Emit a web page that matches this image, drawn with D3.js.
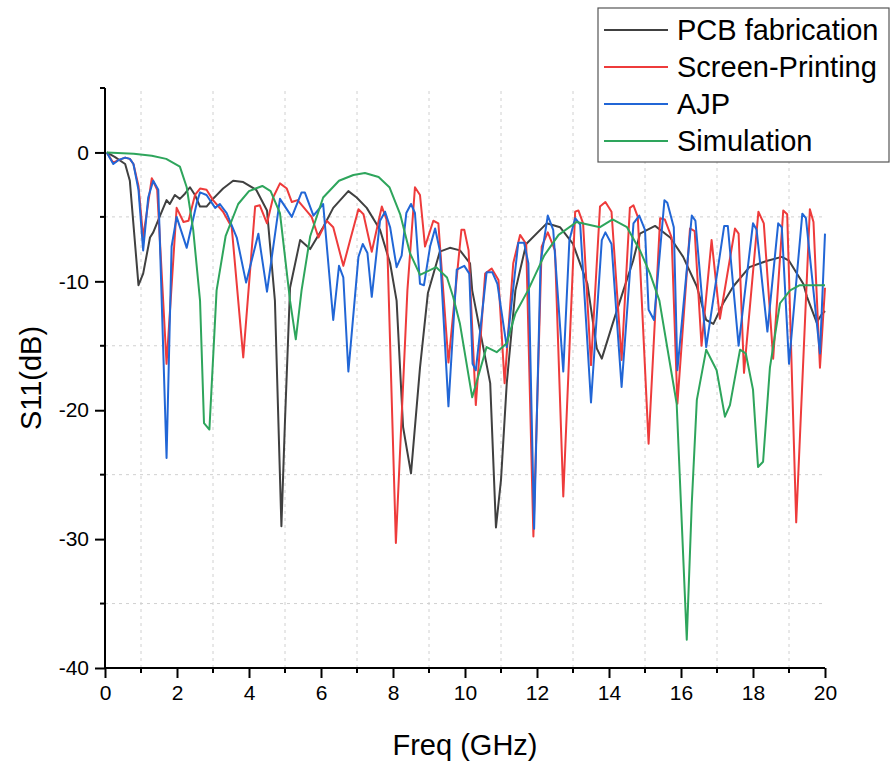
<!DOCTYPE html>
<meta charset="utf-8">
<style>
    body { margin: 0; background: #fff; }
    text { font-family: "Liberation Sans", Arial, sans-serif; fill: #000; }
    .line { fill: none; stroke-width: 2; stroke-linejoin: round; }
    .grid line { stroke: #d0d0d0; stroke-dasharray: 3,4; }
</style>
<body>
<script src="https://cdn.jsdelivr.net/npm/d3@7"></script>
<script>

    var width = 891,
        height = 765;

    var margin = {top: 88, right: 66, bottom: 97, left: 105};

    // series: [freq GHz, S11 dB]
    var pcb = [[0.05,0],[0.28,-0.36],[0.56,-0.9],[0.69,-2.2],[0.93,-10.3],[1.06,-9.4],[1.25,-6.6],[1.34,-6.2],
        [1.53,-4.9],[1.71,-3.7],[1.8,-4],[1.94,-3.3],[2.08,-3.6],[2.22,-3.2],[2.36,-2.7],[2.5,-3.3],[2.64,-4.2],
        [2.82,-4.2],[3.0,-3.6],[3.28,-2.8],[3.56,-2.2],[3.84,-2.3],[4.2,-2.9],[4.5,-4.5],[4.72,-11.5],[4.9,-29],
        [5.0,-20.8],[5.14,-10.5],[5.42,-6.8],[5.7,-7.5],[6.06,-5.8],[6.34,-4.3],[6.76,-3.0],[6.99,-3.5],[7.27,-4.3],
        [7.64,-6.0],[7.92,-8.6],[8.1,-11.5],[8.28,-21.3],[8.5,-24.9],[8.75,-16.7],[8.97,-10.9],[9.3,-7.7],[9.58,-7.4],
        [9.86,-7.6],[10.14,-8.6],[10.2,-10.7],[10.7,-17.9],[10.86,-29.1],[11.0,-25.4],[11.16,-17.9],[11.4,-10.7],
        [11.7,-7.1],[12.27,-5.5],[12.64,-5.8],[13.0,-7.1],[13.4,-10.2],[13.66,-15.2],[13.8,-16],[14.1,-13.3],
        [14.4,-10.7],[14.67,-8.4],[14.86,-6.3],[15.28,-5.7],[15.7,-6.6],[16.06,-8.1],[16.44,-10.4],[16.7,-13],
        [16.9,-13.3],[17.17,-11.7],[17.45,-10.4],[17.9,-8.9],[18.4,-8.4],[18.8,-8.1],[19.0,-8.4],[19.4,-10.2],
        [19.5,-11.2],[19.77,-13.2],[19.9,-12.6],[20,-12.3]];

    var screen = [[0.05,0],[0.23,-0.8],[0.37,-0.6],[0.56,-0.4],[0.69,-0.5],[0.79,-0.9],[0.93,-2.6],[1.06,-6.6],
        [1.3,-2.0],[1.45,-2.9],[1.71,-16.4],[1.99,-4.3],[2.18,-5.4],[2.32,-5.3],[2.5,-3.3],[2.64,-2.8],[2.82,-2.9],
        [3.0,-3.7],[3.28,-4.6],[3.52,-5.8],[3.84,-15.9],[4.17,-4.2],[4.3,-4.1],[4.5,-5.5],[4.67,-3.5],[4.86,-2.4],
        [5.05,-2.8],[5.19,-3.85],[5.35,-3.7],[5.74,-5.0],[5.93,-6.6],[6.16,-5.3],[6.34,-5.8],[6.62,-8.8],[6.81,-6.8],
        [7.04,-4.4],[7.18,-4.8],[7.41,-7.7],[7.69,-4.2],[7.82,-5.2],[8.08,-30.3],[8.4,-10.7],[8.61,-2.7],[8.75,-3.3],
        [8.89,-7.3],[9.12,-5.3],[9.26,-5.5],[9.54,-16.3],[9.9,-6.0],[9.98,-6.0],[10.1,-7.6],[10.3,-19.6],[10.56,-9.4],
        [10.74,-9.0],[10.93,-9.9],[11.1,-17.9],[11.34,-8.6],[11.53,-6.4],[11.7,-7.1],[11.9,-29.8],[12.13,-7.3],
        [12.3,-6.2],[12.5,-7.6],[12.73,-26.7],[13.06,-4.6],[13.15,-4.5],[13.28,-5.5],[13.5,-16.5],[13.75,-4.2],
        [13.9,-3.85],[14.07,-4.6],[14.35,-16.1],[14.58,-4.3],[14.68,-4.1],[14.8,-5.0],[15.1,-22.6],[15.42,-5.1],
        [15.55,-5.2],[15.74,-6.6],[15.9,-19.5],[16.25,-5.9],[16.38,-6.1],[16.57,-15],[16.85,-6.8],[17.08,-12.9],
        [17.5,-5.9],[17.6,-6.3],[17.75,-17.1],[18.15,-4.6],[18.3,-5.5],[18.56,-16],[18.84,-4.5],[18.95,-4.8],
        [19.2,-28.7],[19.58,-4.4],[19.68,-5.4],[19.86,-16.7],[20,-10.5]];

    var ajp = [[0.05,0],[0.23,-0.9],[0.37,-0.6],[0.56,-0.4],[0.69,-0.5],[0.79,-0.9],[0.93,-2.9],[1.06,-7.6],
        [1.2,-3.5],[1.34,-2.2],[1.48,-2.9],[1.71,-23.7],[1.85,-7.3],[1.99,-5.0],[2.27,-7.4],[2.55,-3.9],[2.64,-3.1],
        [2.82,-3.3],[3.06,-4.3],[3.19,-4.0],[3.38,-4.7],[3.66,-6.6],[3.92,-10.1],[4.26,-6.3],[4.5,-10.8],[4.86,-3.6],
        [5.19,-5.0],[5.46,-3.1],[5.55,-3.1],[5.79,-4.9],[6.06,-4.0],[6.34,-13.0],[6.5,-8.8],[6.62,-9.7],[6.76,-17.0],
        [7.04,-8.1],[7.16,-7.1],[7.29,-7.8],[7.41,-11.2],[7.64,-5.3],[7.78,-4.6],[7.92,-5.8],[8.1,-8.9],[8.24,-8.0],
        [8.37,-4.7],[8.5,-4.0],[8.61,-4.7],[8.75,-10.2],[8.86,-10.3],[9.03,-7.3],[9.17,-5.9],[9.3,-7.6],[9.54,-19.7],
        [9.77,-9.1],[9.98,-8.8],[10.12,-9.4],[10.21,-16.4],[10.3,-16.9],[10.6,-9.3],[10.76,-9.3],[10.9,-10.2],
        [11.16,-15.1],[11.48,-7.0],[11.64,-7.0],[11.76,-8.6],[11.92,-29.2],[12.1,-8.5],[12.3,-4.9],[12.45,-6.0],
        [12.73,-17.0],[12.9,-6.8],[13.06,-5.1],[13.2,-5.6],[13.5,-19.4],[13.8,-6.8],[13.9,-6.2],[14.07,-7.1],
        [14.35,-18.2],[14.68,-5.5],[14.84,-4.9],[15.0,-6.0],[15.1,-12.2],[15.25,-13],[15.54,-3.7],[15.62,-3.9],
        [15.8,-5.8],[15.9,-16.9],[16.3,-4.9],[16.4,-5.3],[16.7,-15.1],[17.2,-5.7],[17.3,-5.7],[17.6,-15],
        [18.0,-5.5],[18.1,-6.0],[18.4,-13.9],[18.7,-5.5],[18.8,-5.8],[19.0,-16.4],[19.37,-4.75],[19.47,-5.1],
        [19.86,-15.6],[20,-6.3]];

    var sim = [[0.05,0],[0.8,-0.1],[1.3,-0.25],[1.7,-0.5],[2.08,-1.1],[2.27,-2.7],[2.45,-6],[2.64,-11.5],
        [2.75,-21],[2.9,-21.5],[3.1,-10.7],[3.35,-6.5],[3.7,-4.0],[4.0,-3.0],[4.37,-2.6],[4.6,-3.0],[4.86,-4.7],
        [5.14,-11.5],[5.3,-14.5],[5.46,-10.7],[5.7,-6.5],[6.06,-3.5],[6.5,-2.2],[6.9,-1.75],[7.22,-1.6],[7.6,-1.9],
        [7.9,-2.7],[8.2,-4.8],[8.47,-7.8],[8.75,-9.5],[9.2,-8.9],[9.5,-9.7],[9.67,-11.2],[9.86,-13.3],[10.2,-19],
        [10.6,-15.1],[10.88,-15.5],[11.16,-14.8],[11.4,-12.5],[11.75,-10.7],[12.2,-8.0],[12.6,-6.4],[13.1,-5.4],
        [13.75,-5.8],[14.1,-5.2],[14.5,-5.8],[14.86,-7.6],[15.14,-9.4],[15.4,-11.5],[15.88,-19.5],[16.16,-37.8],
        [16.3,-27.2],[16.44,-19.2],[16.7,-15.3],[16.99,-16.9],[17.22,-20.5],[17.36,-19.6],[17.64,-15.3],[17.8,-15.6],
        [18.0,-18.4],[18.14,-24.4],[18.28,-24],[18.47,-16.7],[18.75,-11.7],[19.03,-10.7],[19.3,-10.3],[20,-10.3]];

    var series = [
        {name: "PCB fabrication", color: "#404040", values: pcb},
        {name: "Screen-Printing", color: "#ee3b3b", values: screen},
        {name: "AJP", color: "#2166d6", values: ajp},
        {name: "Simulation", color: "#2ea55c", values: sim}
    ];

    var xMajor = d3.range(0, 21, 2),
        xMinor = d3.range(1, 20, 2),
        yMajor = [0, -10, -20, -30, -40],
        yMinor = [5, -5, -15, -25, -35];

    var x = d3.scaleLinear()
        .domain([0, 20])
        .range([margin.left, width - margin.right]);

    var y = d3.scaleLinear()
        .domain([-40, 5])
        .range([height - margin.bottom, margin.top]);

    var svg = d3.select("body").append("svg")
        .attr("width", width)
        .attr("height", height);

    // dashed grid on the minor positions
    var grid = svg.append("g").attr("class", "grid");
    grid.selectAll(".gx").data(xMinor).enter().append("line")
        .attr("x1", function(d) { return x(d); })
        .attr("x2", function(d) { return x(d); })
        .attr("y1", y(-40))
        .attr("y2", y(5));
    grid.selectAll(".gy").data(yMinor.slice(1)).enter().append("line")
        .attr("x1", x(0))
        .attr("x2", x(20))
        .attr("y1", function(d) { return y(d); })
        .attr("y2", function(d) { return y(d); });

    var line = d3.line()
        .x(function(d) { return x(d[0]); })
        .y(function(d) { return y(d[1]); });

    svg.selectAll(".line")
        .data(series)
        .enter().append("path")
        .attr("class", "line")
        .style("stroke", function(d) { return d.color; })
        .attr("d", function(d) { return line(d.values); });

    // axes (plain hyphen for negatives, like the original)
    var fmt = function(d) { return String(d); };

    var xAxis = svg.append("g")
        .attr("transform", "translate(0," + y(-40) + ")")
        .call(d3.axisBottom(x).tickValues(xMajor).tickFormat(fmt).tickSize(10).tickPadding(7));
    xAxis.append("g").selectAll("line").data(xMinor).enter().append("line")
        .attr("x1", function(d) { return x(d); })
        .attr("x2", function(d) { return x(d); })
        .attr("y1", 0).attr("y2", 5)
        .attr("stroke", "#000").attr("stroke-width", 2);

    var yAxis = svg.append("g")
        .attr("transform", "translate(" + x(0) + ",0)")
        .call(d3.axisLeft(y).tickValues(yMajor).tickFormat(fmt).tickSize(10).tickPadding(6));
    yAxis.append("g").selectAll("line").data(yMinor).enter().append("line")
        .attr("y1", function(d) { return y(d); })
        .attr("y2", function(d) { return y(d); })
        .attr("x1", 0).attr("x2", -5)
        .attr("stroke", "#000").attr("stroke-width", 2);

    svg.selectAll(".domain").attr("stroke-width", 2);
    xAxis.select(".domain").attr("d", "M" + x(0) + ",0H" + x(20));
    yAxis.select(".domain").attr("d", "M0," + y(-40) + "V" + y(5));
    svg.selectAll(".tick line").attr("stroke-width", 2);
    svg.selectAll(".tick text").style("font-size", "21px").style("font-family", "Liberation Sans, Arial, sans-serif");

    svg.append("text")
        .attr("x", x(10))
        .attr("y", 755)
        .attr("text-anchor", "middle")
        .style("font-size", "29px")
        .text("Freq (GHz)");

    svg.append("text")
        .attr("transform", "translate(41," + y(-17.5) + ") rotate(-90)")
        .attr("text-anchor", "middle")
        .style("font-size", "29px")
        .text("S11(dB)");

    // legend
    var legend = svg.append("g").attr("transform", "translate(598,8)");
    legend.append("rect")
        .attr("width", 291).attr("height", 154)
        .attr("fill", "#fff").attr("stroke", "#555").attr("stroke-width", 1.2);
    var item = legend.selectAll(".item").data(series).enter().append("g")
        .attr("transform", function(d, i) { return "translate(0," + (22 + i * 37) + ")"; });
    item.append("line")
        .attr("x1", 6).attr("x2", 70)
        .attr("stroke", function(d) { return d.color; })
        .attr("stroke-width", 2);
    item.append("text")
        .attr("x", 79).attr("dy", "0.36em")
        .style("font-size", "29px")
        .text(function(d) { return d.name; });

</script>
